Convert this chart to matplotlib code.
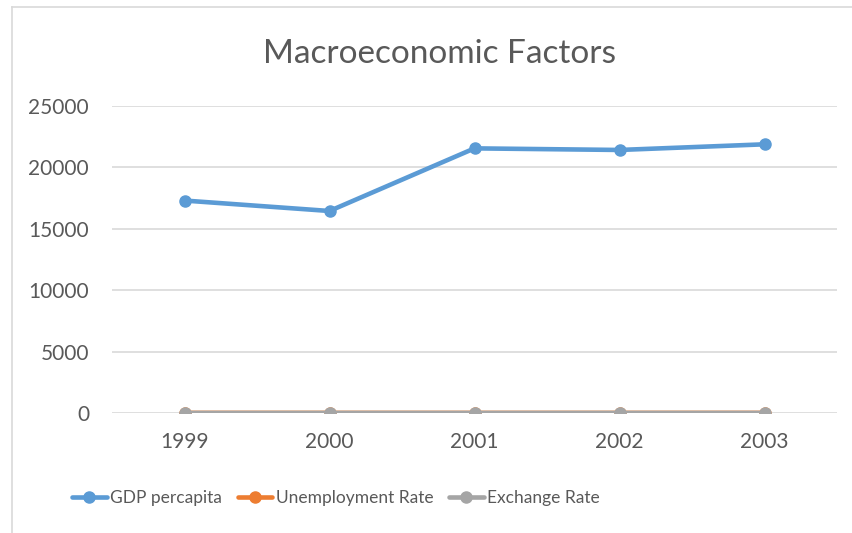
import matplotlib.pyplot as plt
from matplotlib.lines import Line2D

# Data
years = ["1999", "2000", "2001", "2002", "2003"]
gdp_percapita = [17300, 16450, 21550, 21420, 21880]
unemployment_rate = [9.0, 8.5, 7.5, 8.0, 9.0]
exchange_rate = [1.07, 0.92, 0.90, 0.95, 1.13]

BLUE = "#5b9bd5"
ORANGE = "#ed7d31"
GREY = "#a5a5a5"
TEXT = "#595959"

plt.rcParams["font.family"] = ["Lato", "DejaVu Sans"]

fig = plt.figure(figsize=(8.52, 5.33), dpi=100)
ax = fig.add_axes([112 / 852, 1 - 413 / 533, (837 - 112) / 852, (413 - 106) / 533])

# chart area border (only top and left edges visible in the crop)
fig.add_artist(Line2D([12 / 852, 1], [1 - 7 / 533] * 2, color="#d9d9d9", lw=1.2))
fig.add_artist(Line2D([12 / 852] * 2, [0, 1 - 7 / 533], color="#d9d9d9", lw=1.2))

x = range(len(years))
style = dict(lw=3.3, marker="o", ms=8, solid_capstyle="round")
ax.plot(x, gdp_percapita, color=BLUE, label="GDP percapita", **style)
ax.plot(x, unemployment_rate, color=ORANGE, label="Unemployment Rate", **style)
ax.plot(x, exchange_rate, color=GREY, label="Exchange Rate", **style)

ax.set_xlim(-0.5, len(years) - 0.5)
ax.set_ylim(0, 25000)
ax.set_yticks(range(0, 25001, 5000))
ax.set_xticks(list(x))
ax.set_xticklabels(years)
ax.grid(axis="y", color="#d9d9d9", lw=1.2)
ax.set_axisbelow(True)
for s in ax.spines.values():
    s.set_visible(False)
ax.tick_params(length=0, labelsize=15, colors=TEXT)
ax.tick_params(axis="y", pad=16.5)
ax.tick_params(axis="x", pad=14)

fig.text(439 / 852, 1 - 63 / 533, "Macroeconomic Factors", ha="center", va="baseline",
         fontsize=24, color=TEXT)

fig.legend(loc="center", bbox_to_anchor=(336 / 852, 1 - 498 / 533), ncol=3, frameon=False,
           fontsize=12.5, labelcolor=TEXT, handlelength=2.0, handletextpad=0.2,
           columnspacing=0.9, borderpad=0)

fig.savefig("out.png", dpi=100)
